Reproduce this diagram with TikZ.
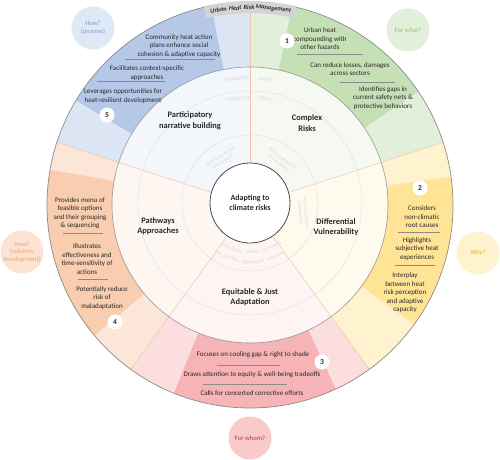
\documentclass[tikz,border=0pt]{standalone}
\usepackage{fontspec}
\setmainfont{Carlito}
\usepackage{tikz}
\usetikzlibrary{positioning,calc}
\definecolor{bluel}{RGB}{220,229,244}
\definecolor{blued}{RGB}{182,200,232}
\definecolor{greenl}{RGB}{226,239,218}
\definecolor{greend}{RGB}{198,224,181}
\definecolor{yell}{RGB}{255,242,206}
\definecolor{yeld}{RGB}{255,228,150}
\definecolor{pinkl}{RGB}{252,222,223}
\definecolor{pinkd}{RGB}{246,180,183}
\definecolor{orl}{RGB}{251,230,216}
\definecolor{ord}{RGB}{248,205,176}
\definecolor{ringline}{RGB}{238,196,170}
\definecolor{txt}{RGB}{40,40,40}
\definecolor{qblue}{RGB}{125,155,210}
\definecolor{qgreen}{RGB}{150,196,120}
\definecolor{qyel}{RGB}{238,180,30}
\definecolor{qor}{RGB}{240,160,110}
\definecolor{qpink}{RGB}{215,40,65}
\definecolor{bpink}{RGB}{248,202,202}

\begin{document}
\begin{tikzpicture}[x=1pt, y=1pt,
  font=\fontsize{7}{8.5}\selectfont, text=txt,
  item/.style={align=center, inner sep=0pt},
  title/.style={align=center, inner sep=0pt, font=\fontsize{8.4}{10.5}\selectfont\bfseries},
  num/.style={circle, fill=white, inner sep=0pt, minimum size=15pt, font=\fontsize{7.5}{8}\selectfont\bfseries},
  bubble/.style={circle, minimum size=43pt, inner sep=0pt, align=center, font=\fontsize{6.6}{7.6}\selectfont},
  sep/.style={black!45, line width=0.4pt},
  radial/.style={ringline, line width=0.5pt},
  faint/.style={black!12, line width=0.4pt},
  ghost/.style={text=black!15, align=center, inner sep=0pt, font=\fontsize{5}{5.8}\selectfont},
  arcword/.style={inner sep=0pt, font=\fontsize{6.3}{6.3}\selectfont\bfseries\itshape},
]
\useasboundingbox (-250,-254) rectangle (250,205);
\fill[white] (-250,-254) rectangle (250,205);
% ---- sectors: inner pale, outer band, darker text field ----
\foreach \s/\e/\ds/\de/\cl/\cd in {90/162/101/149/bluel/blued, 18/90/34/78/greenl/greend,
    -54/18/-36/8/yell/yeld, -126/-54/-112/-65/pinkl/pinkd, 162/234/170/220/orl/ord}{
  \fill[\cl!35] (0,0) -- (\s:138) arc[start angle=\s, end angle=\e, radius=138] -- cycle;
  \fill[\cl] (\s:138) arc[start angle=\s, end angle=\e, radius=138] -- (\e:203)
    arc[start angle=\e, end angle=\s, radius=203] -- cycle;
  \fill[\cd] (\ds:138) arc[start angle=\ds, end angle=\de, radius=138] -- (\de:203)
    arc[start angle=\de, end angle=\ds, radius=203] -- cycle;
}
% ---- rings and spokes ----
\draw[faint] (0,2) circle[radius=68];
\draw[faint] (0,2) circle[radius=112];
\foreach \a in {90,18,-54,-126,162} \draw[radial] (\a:40) -- (\a:203);
\draw[black!40, line width=0.6pt] (0,0) circle[radius=138];
\draw[black!45, line width=0.7pt] (0,0) circle[radius=203];
% ---- banner ----
\fill[black!17] (103.2:192) arc[start angle=103.2, end angle=76.8, radius=192] -- (76.8:204)
  arc[start angle=76.8, end angle=103.2, radius=204] -- cycle;
\foreach \w/\a in {Urban/99.2, Heat/94.3, Risk/90.3, Management/83.2}
  \node[arcword, rotate=\a-90] (ban\w) at (\a:197.5) {\w};
% ---- centre ----
\draw[black!70, line width=0.8pt, fill=white] (0,2) circle[radius=40];
\node[align=center, inner sep=0pt, font=\fontsize{8}{10}\selectfont\bfseries] (core) at (0,2) {Adapting to\\climate risks};
% faint inner labels
\foreach \w/\a/\r [count=\i] in {Adaptation/96/125, Action/82.5/125, Adaptation/96.5/105, Theory/81.5/105}
  \node[ghost, font=\fontsize{5.6}{6}\selectfont\itshape, rotate=\a-90] (gring\i) at ($(core)+(\a:\r)$) {\w};
\foreach \w/\a [count=\i] in {{Principles,}/-111, {Values,}/-86, Outcomes/-64}
  \node[ghost, rotate=\a+90] (gline\i) at ($(core)+(\a:49)$) {\w};
\foreach \w/\a [count=\i] in {of/-121, {process,}/-108.5, approach/-89, \&/-77.5, solutions/-64.5}
  \node[ghost, rotate=\a+90] (gsol\i) at ($(core)+(\a:59)$) {\w};
\node[ghost, rotate=33] (gproc) at ($(core)+(123:52)$) {How to perceive\\the process};
\node[ghost, rotate=-36] (gprob) at ($(core)+(54:52)$) {How to perceive\\the problem};
\node[ghost, rotate=-85] (gimp) at ($(core)+(-11:54)$) {How to perceive\\the impact};
% ---- titles ----
\node[title] (tpart) at (-60,84) {Participatory\\narrative building};
\node[title] (tcomp) at (57,82) {Complex\\Risks};
\node[title] (tdiff) at (86,-22) {Differential\\Vulnerability};
\node[title] (tequi) at (0,-92) {Equitable \& Just\\Adaptation};
\node[title] (tpath) at (-92,-21) {Pathways\\Approaches};
% ---- 5: participatory ----
\node[item] (b1) at (-71,159) {Community heat action\\plans enhance social\\cohesion \& adaptive capacity};
\node[item] (b2) at (-103,132) {Facilitates context-specific\\approaches};
\node[item] (b3) at (-127,109) {Leverages opportunities for\\heat-resilient development};
\draw[sep] (-125,146) -- (-35,146);
\draw[sep] (-153,124) -- (-85,124);
% ---- 1: complex risks ----
\node[item] (g1) at (70,166) {Urban heat\\compounding with\\other hazards};
\node[item] (g2) at (100,136) {Can reduce losses, damages\\across sectors};
\node[item] (g3) at (133,107) {Identifies gaps in\\current safety nets \&\\protective behaviors};
\draw[sep] (47,151) -- (113,151);
\draw[sep] (90,123) -- (145,123);
% ---- 2: differential vulnerability ----
\node[item] (y1) at (172,-12) {Considers\\non-climatic\\root causes};
\node[item] (y2) at (167,-44) {Highlights\\subjective heat\\experiences};
\node[item] (y3) at (155,-88) {Interplay\\between heat\\risk perception\\and adaptive\\capacity};
\draw[sep] (148,-27) -- (190,-27);
\draw[sep] (145,-60) -- (185,-60);
% ---- 3: equitable & just ----
\node[item] (p1) at (3,-150) {Focuses on cooling gap \& right to shade};
\node[item] (p2) at (2,-170) {Draws attention to equity \& well-being tradeoffs};
\node[item] (p3) at (2,-188) {Calls for concerted corrective efforts};
\draw[sep] (-33,-160) -- (30,-160);
\draw[sep] (-47,-179) -- (37,-179);
% ---- 4: pathways ----
\node[item] (o1) at (-170,-8) {Provides menu of\\feasible options\\and their grouping\\\& sequencing};
\node[item] (o2) at (-163,-54) {Illustrates\\effectiveness and\\time-sensitivity of\\actions};
\node[item] (o3) at (-148,-93) {Potentially reduce\\risk of\\maladaptation};
\draw[sep] (-187,-28) -- (-147,-28);
\draw[sep] (-172,-74) -- (-142,-74);
% ---- numbers ----
\node[num] (n1) at (37,164) {1};
\node[num] (n2) at (170,17) {2};
\node[num] (n3) at (72,-157) {3};
\node[num] (n4) at (-135,-117) {4};
\node[num] (n5) at (-143,90) {5};
% ---- guiding questions ----
\node[bubble, fill=bluel!90, text=qblue] (qproc) at (-157,177) {How?\\(process)};
\node[bubble, fill=greenl, text=qgreen] (qwhat) at (158,175) {For what?};
\node[bubble, fill=yell, text=qyel] (qwhy) at (228,-48) {Why?};
\node[bubble, fill=orl!90!ord, text=qor] (qsol) at (-228,-47) {How?\\(solution\\development)};
\node[bubble, fill=bpink, text=qpink] (qwhom) at (0,-233) {For whom?};
\end{tikzpicture}
\end{document}
